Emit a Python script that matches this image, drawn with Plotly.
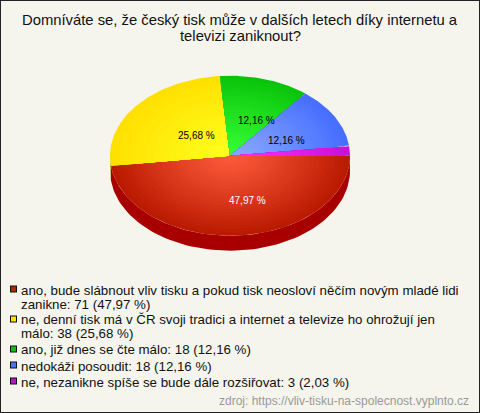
import numpy as np
import plotly.graph_objects as go

title_lines = ["Domníváte se, že český tisk může v dalších letech díky internetu a", "televizi zaniknout?"]
values = [71, 38, 18, 18, 3]
percent_labels = ["47,97 %", "25,68 %", "12,16 %", "12,16 %", "2,03 %"]
legend_rows = [
    ["ano, bude slábnout vliv tisku a pokud tisk neosloví něčím novým mladé lidi", "zanikne: 71 (47,97 %)"],
    ["ne, denní tisk má v ČR svoji tradici a internet a televize ho ohrožují jen", "málo: 38 (25,68 %)"],
    ["ano, již dnes se čte málo: 18 (12,16 %)"],
    ["nedokáži posoudit: 18 (12,16 %)"],
    ["ne, nezanikne spíše se bude dále rozšiřovat: 3 (2,03 %)"],
]
source = "zdroj: https://vliv-tisku-na-spolecnost.vyplnto.cz"

inner = [(255, 92, 60), (255, 255, 30), (55, 255, 55), (140, 170, 255), (255, 50, 255)]
outer = [(186, 26, 0), (255, 224, 0), (10, 196, 10), (70, 110, 255), (200, 16, 215)]
side = ["#a80000", "#a89000", "#008000", "#2040a0", "#800080"]
label_colors = ["white", "black", "black", "black", "black"]
shifts = [(13, 0), (19, 8), (7, 8), (-3, 7), None]
swatch = ["#c02000", "#ffe000", "#10c010", "#4a73ff", "#c010d0"]

W, H = 480, 413
CX, CY, RX, RY, DEPTH = 230, 155.7, 120, 80, 15
RINGS = 24
BG = "#f5f5ed"

fig = go.Figure()
total = sum(values)
edges = np.concatenate([[0], np.cumsum(values)]) / total * 2 * np.pi


def ell(a, t=1.0, dy=0.0):
    return CX + RX * t * np.cos(a), CY + dy + RY * t * np.sin(a)


def poly(x, y, color):
    fig.add_trace(go.Scatter(x=x, y=y, mode="lines", fill="toself", fillcolor=color,
                             line=dict(width=0), hoverinfo="skip", showlegend=False))


for i in range(len(values)):
    a0, a1 = edges[i], min(edges[i + 1], np.pi)
    if a0 >= np.pi:
        continue
    a = np.linspace(a0, a1, 80)
    xt, yt = ell(a)
    xb, yb = ell(a[::-1], dy=DEPTH)
    poly(np.r_[xt, xb, xt[0]], np.r_[yt, yb, yt[0]], side[i])

for i in range(len(values)):
    a = np.linspace(edges[i], edges[i + 1], 90)
    for k in range(RINGS):
        t = 1 - k / RINGS
        mix = t ** 1.1
        col = [round(inner[i][c] + (outer[i][c] - inner[i][c]) * mix) for c in range(3)]
        x, y = ell(a, t)
        poly(np.r_[CX, x, CX], np.r_[CY, y, CY], f"rgb({col[0]},{col[1]},{col[2]})")

ann = []


def text(x, y, s, size, color="#111111", anchor="left", xshift=0, yshift=0):
    ann.append(dict(x=x, y=y, text=s, showarrow=False, xanchor=anchor, yanchor="middle",
                    xshift=xshift, yshift=yshift,
                    font=dict(family="Liberation Sans, Arial, sans-serif", size=size, color=color)))


for ln, y in zip(title_lines, (20, 36)):
    text(240, y, ln, 14.8, anchor="center")

for i, sh in enumerate(shifts):
    if sh is None:
        continue
    mid = (edges[i] + edges[i + 1]) / 2
    x, y = ell(mid, 0.567)
    text(x, y, percent_labels[i], 10, color=label_colors[i], anchor="center", xshift=sh[0], yshift=-sh[1])

shapes = []
row_y = [[290, 304], [319.5, 333.5], [349.5], [366], [382]]
for i, (row, ys) in enumerate(zip(legend_rows, row_y)):
    c = round(ys[0]) - 1
    shapes.append(dict(type="rect", x0=10, x1=17, y0=c - 3.5, y1=c + 3.5,
                       fillcolor="#111111", line=dict(width=0)))
    shapes.append(dict(type="rect", x0=11, x1=16, y0=c - 2.5, y1=c + 2.5,
                       fillcolor=swatch[i], line=dict(width=0)))
    for ln, y in zip(row, ys):
        text(19, y, ln, 13.3)
text(471, 401, source, 12, color="#999999", anchor="right")

shapes.append(dict(type="rect", x0=0, x1=W, y0=0, y1=H, line=dict(color="#222222", width=2), fillcolor="rgba(0,0,0,0)"))

fig.update_layout(
    width=W, height=H, margin=dict(l=0, r=0, t=0, b=0), showlegend=False,
    paper_bgcolor=BG, plot_bgcolor=BG, annotations=ann, shapes=shapes,
    xaxis=dict(range=[0, W], visible=False, fixedrange=True),
    yaxis=dict(range=[H, 0], visible=False, fixedrange=True),
)
fig.write_html("out.html", config=dict(displayModeBar=False),
               post_script="document.body.style.margin='0';document.documentElement.style.overflow='hidden';")
